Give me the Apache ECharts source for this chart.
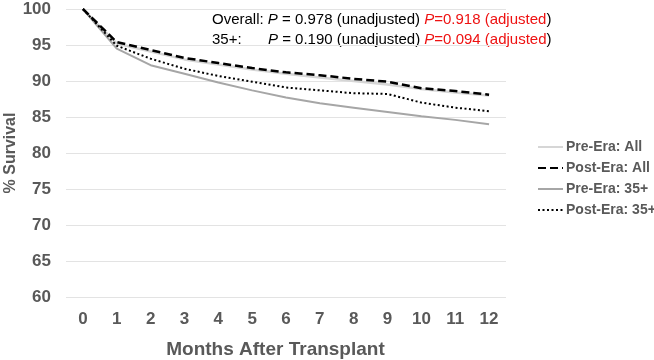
<!DOCTYPE html>
<html><head><meta charset="utf-8">
<script src="https://cdn.jsdelivr.net/npm/echarts@6/dist/echarts.min.js"></script>
<style>html,body{margin:0;padding:0;background:#fff}#c{width:654px;height:360px}</style>
</head><body><div id="c"></div>
<script>
const months = ['0','1','2','3','4','5','6','7','8','9','10','11','12'];
const preEraAll  = [100, 95.2, 94.1, 93.0, 92.3, 91.6, 91.0, 90.5, 90.0, 89.5, 88.9, 88.4, 88.0];
const postEraAll = [100, 95.4, 94.3, 93.2, 92.5, 91.8, 91.2, 90.8, 90.3, 89.9, 89.0, 88.6, 88.1];
const preEra35   = [100, 94.5, 92.2, 91.0, 89.8, 88.7, 87.7, 86.9, 86.3, 85.7, 85.1, 84.6, 84.0];
const postEra35  = [100, 94.9, 93.1, 91.7, 90.7, 89.9, 89.1, 88.7, 88.3, 88.2, 87.0, 86.3, 85.8];
const seriesNames = ['Pre-Era: All','Post-Era: All','Pre-Era: 35+','Post-Era: 35+'];

const chart = echarts.init(document.getElementById('c'));
const font = 'Liberation Sans, Arial, sans-serif';
const lbl = {color:'#595959', fontWeight:'bold', fontSize:17, fontFamily:font};
function mk(name, data, color, width, type, z){
  return {name, type:'line', data, symbol:'none', smooth:false, z,
    lineStyle:{color, width, type}, itemStyle:{color}};
}
chart.setOption({
  animation:false,
  grid:{left:66, right:148, top:9, bottom:63, containLabel:false, outerBoundsMode:'none'},
  xAxis:{type:'category', data:months, boundaryGap:true,
    name:'Months After Transplant', nameLocation:'middle', nameGap:43, nameMoveOverlap:false,
    nameTextStyle:{color:'#595959', fontWeight:'bold', fontSize:19, fontFamily:font, padding:[0,21,0,0]},
    axisLine:{show:false}, axisTick:{show:false},
    axisLabel:Object.assign({margin:14}, lbl)},
  yAxis:{type:'value', min:60, max:100, interval:5,
    name:'% Survival', nameLocation:'middle', nameGap:47, nameRotate:90, nameMoveOverlap:false,
    nameTextStyle:{color:'#595959', fontWeight:'bold', fontSize:16, fontFamily:font},
    axisLine:{show:false}, axisTick:{show:false},
    axisLabel:Object.assign({margin:15}, lbl),
    splitLine:{lineStyle:{color:'#e3e3e3', width:1}}},
  legend:{orient:'vertical', left:537, top:140, padding:0, itemWidth:25, itemHeight:14, itemGap:7,
    data:seriesNames, itemStyle:{opacity:0},
    textStyle:{color:'#595959', fontWeight:'bold', fontSize:14, fontFamily:font, padding:[0,0,0,-2]}},
  series:[
    mk(seriesNames[0], preEraAll, '#d6d6d6', 2.5, 'solid', 1),
    mk(seriesNames[1], postEraAll, '#000000', 2.5, [8,4], 4),
    mk(seriesNames[2], preEra35, '#a6a6a6', 2, 'solid', 2),
    mk(seriesNames[3], postEra35, '#000000', 2, [2,2.5], 3)
  ],
  graphic:[
    {type:'text', left:212, top:12, style:{
      text:'{n|Overall: }{i|P}{n| = 0.978 (unadjusted) }{ri|P}{r|=0.918 (adjusted}{n|)}',
      rich:{n:{fill:'#000',fontSize:15,fontFamily:font},
            i:{fill:'#000',fontSize:15,fontFamily:font,fontStyle:'italic'},
            r:{fill:'#ee1111',fontSize:15,fontFamily:font},
            ri:{fill:'#ee1111',fontSize:15,fontFamily:font,fontStyle:'italic'}}}},
    {type:'text', left:212, top:32, style:{text:'35+:', fill:'#000', fontSize:15, fontFamily:font}},
    {type:'text', left:268, top:32, style:{
      text:'{i|P}{n| = 0.190 (unadjusted) }{ri|P}{r|=0.094 (adjusted}{n|)}',
      rich:{n:{fill:'#000',fontSize:15,fontFamily:font},
            i:{fill:'#000',fontSize:15,fontFamily:font,fontStyle:'italic'},
            r:{fill:'#ee1111',fontSize:15,fontFamily:font},
            ri:{fill:'#ee1111',fontSize:15,fontFamily:font,fontStyle:'italic'}}}}
  ]
});
</script></body></html>
